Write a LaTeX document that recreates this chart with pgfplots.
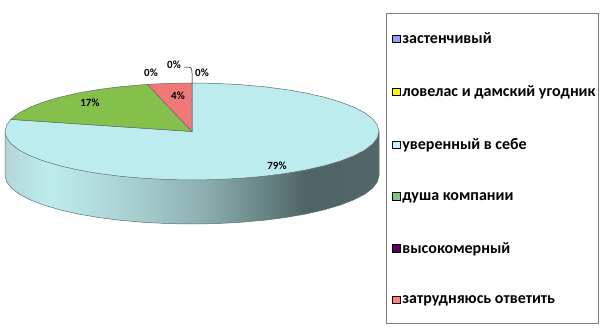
\documentclass[border=0pt]{standalone}
\usepackage{pgfplots}
\pgfplotsset{compat=1.18}
\usepackage{fontspec}
\setmainfont{Carlito}
\definecolor{sBlue}{HTML}{BCECEE}
\definecolor{sGreen}{HTML}{85BF4C}
\definecolor{sRed}{HTML}{F07878}
\definecolor{edge}{HTML}{5F6F6F}
\definecolor{w0}{HTML}{B5D6D7}
\definecolor{w1}{HTML}{BDECED}
\definecolor{w2}{HTML}{A9D0D1}
\definecolor{w3}{HTML}{8EB1B2}
\definecolor{w4}{HTML}{5E7878}
\definecolor{w5}{HTML}{4F6565}
\definecolor{w6}{HTML}{526868}
\pgfdeclarehorizontalshading{wallshade}{100bp}{color(0bp)=(w0); color(25bp)=(w0); color(31bp)=(w1); color(41.7bp)=(w2); color(51bp)=(w3); color(62bp)=(w4); color(65bp)=(w5); color(75bp)=(w6); color(100bp)=(w6)}
\begin{document}
\begin{tikzpicture}
\begin{axis}[
  width=602bp,height=334bp,scale only axis,
  xmin=0,xmax=602,ymin=0,ymax=334,
  hide axis,clip=false,
  legend cell align=left,
  legend style={draw=none,fill=none,at={(axis cs:391.5,301.5)},anchor=north west,
    font=\fontsize{16bp}{17bp}\selectfont\bfseries,row sep=40.7bp,inner xsep=0pt,inner ysep=0pt,
    nodes={inner xsep=2bp,inner ysep=0pt,anchor=west}},
  legend image code/.code={\draw[#1,line width=0.7bp] (0bp,-3.5bp) rectangle (8bp,4bp);},
]
% page
\addplot[forget plot,draw=none,fill=white] coordinates {(0,0)(602,0)(602,334)(0,334)} -- cycle;
% side wall
\addplot[forget plot,draw=none,shade,shading=wallshade] coordinates {
(5,158.5)(6.6,152.2)(11.4,145.9)(19.2,139.9)(30.1,134.2)(43.6,129)(59.8,124.2)(78.2,120)(98.5,116.5)(120.4,113.7)(143.6,111.7)(167.6,110.4)(192,110)(216.4,110.4)(240.4,111.7)(263.6,113.7)(285.5,116.5)(305.8,120)(324.2,124.2)(340.4,129)(353.9,134.2)(364.8,139.9)(372.6,145.9)(377.4,152.2)(379,158.5)(379,202.5)(5,202.5)} -- cycle;
\addplot[forget plot,edge,line width=0.5bp] coordinates {
(5,202.5)(5,158.5)(6.6,152.2)(11.4,145.9)(19.2,139.9)(30.1,134.2)(43.6,129)(59.8,124.2)(78.2,120)(98.5,116.5)(120.4,113.7)(143.6,111.7)(167.6,110.4)(192,110)(216.4,110.4)(240.4,111.7)(263.6,113.7)(285.5,116.5)(305.8,120)(324.2,124.2)(340.4,129)(353.9,134.2)(364.8,139.9)(372.6,145.9)(377.4,152.2)(379,158.5)(379,202.5)};
% 79 %
\addplot[forget plot,draw=edge,line width=0.5bp,fill=sBlue] coordinates {
(192,202.5)(192,251)(216.4,250.6)(240.4,249.3)(263.6,247.3)(285.5,244.5)(305.8,241)(324.2,236.8)(340.4,232)(353.9,226.8)(364.8,221.1)(372.6,215.1)(377.4,208.8)(379,202.5)
(377.4,196.2)(372.6,189.9)(364.8,183.9)(353.9,178.2)(340.4,173)(324.2,168.2)(305.8,164)(285.5,160.5)(263.6,157.7)(240.4,155.7)(216.4,154.4)(192,154)
(167.6,154.4)(143.6,155.7)(120.4,157.7)(98.5,160.5)(78.2,164)(59.8,168.2)(43.6,173)(30.1,178.2)(19.2,183.9)(11.4,189.9)(6.6,196.2)(5,202.5)
(6.6,208.8)(10.9,214.6)} -- cycle;
% 17 %
\addplot[forget plot,draw=edge,line width=0.5bp,fill=sGreen] coordinates {
(192,202.5)(10.9,214.6)(11.4,215.1)(19.2,221.1)(30.1,226.8)(43.6,232)(59.8,236.8)(78.2,241)(98.5,244.5)(120.4,247.3)(143.6,249.3)(147.5,249.6)} -- cycle;
% 4 %
\addplot[forget plot,draw=edge,line width=0.5bp,fill=sRed] coordinates {
(192,202.5)(147.5,249.6)(167.6,250.6)(192,251)} -- cycle;
% leader line
\addplot[forget plot,black,line width=0.5bp] coordinates {(184,267)(190,266.7)(191.6,265)(192,261)(192,251)};
% legend frame
\addplot[forget plot,draw=black!50,line width=0.9bp] coordinates {(386.5,321)(598,321)(598,11)(386.5,11)} -- cycle;
\node[font=\fontsize{11bp}{12bp}\selectfont\bfseries] at (axis cs:277,168.5) {79\%};
\node[font=\fontsize{11bp}{12bp}\selectfont\bfseries] at (axis cs:90,231) {17\%};
\node[font=\fontsize{11bp}{12bp}\selectfont\bfseries] at (axis cs:178,238) {4\%};
\node[font=\fontsize{11bp}{12bp}\selectfont\bfseries] at (axis cs:151,261) {0\%};
\node[font=\fontsize{11bp}{12bp}\selectfont\bfseries] at (axis cs:174,269.5) {0\%};
\node[font=\fontsize{11bp}{12bp}\selectfont\bfseries] at (axis cs:202,261) {0\%};
\addlegendimage{draw=black,fill=blue!40!white}
\addlegendentry{застенчивый}
\addlegendimage{draw=black,fill=yellow}
\addlegendentry{ловелас и дамский угодник}
\addlegendimage{draw=black,fill=cyan!20!white}
\addlegendentry{уверенный в себе}
\addlegendimage{draw=black,fill=green!55!black!50!white}
\addlegendentry{душа компании}
\addlegendimage{draw=black,fill=violet!70!black}
\addlegendentry{высокомерный}
\addlegendimage{draw=black,fill=red!50!white}
\addlegendentry{затрудняюсь ответить}
\end{axis}
\end{tikzpicture}
\end{document}
